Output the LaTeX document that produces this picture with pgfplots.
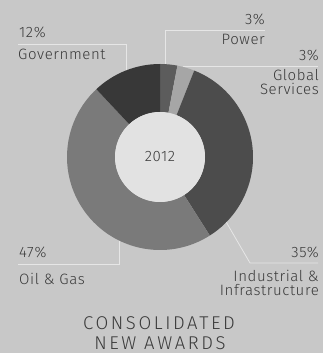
\documentclass[border=0pt]{standalone}
\usepackage{pgfplots}
\pgfplotsset{compat=1.18}
\usepackage{pgfplotstable}
\usepackage{fontspec}
\setmainfont{Fira Sans Light}
\definecolor{bg}{HTML}{C8C8C8}
\definecolor{txt}{HTML}{3A3A3A}
\definecolor{leader}{HTML}{E6E6E6}
\definecolor{cPower}{HTML}{5C5C5C}
\definecolor{cGlobal}{HTML}{A6A6A6}
\definecolor{cIndustrial}{HTML}{4C4C4C}
\definecolor{cOil}{HTML}{7A7A7A}
\definecolor{cGov}{HTML}{383838}
\definecolor{hole}{HTML}{E2E2E2}
\pgfplotstableread{
seg value
Power 3
Global 3
Industrial 35
OilGas 47
Government 12
}\awards
\begin{document}
\begin{tikzpicture}
\pgfplotstablegetelem{0}{value}\of\awards \let\vA\pgfplotsretval
\pgfplotstablegetelem{1}{value}\of\awards \let\vB\pgfplotsretval
\pgfplotstablegetelem{2}{value}\of\awards \let\vC\pgfplotsretval
\pgfplotstablegetelem{3}{value}\of\awards \let\vD\pgfplotsretval
\pgfplotstablegetelem{4}{value}\of\awards \let\vE\pgfplotsretval
\pgfmathsetmacro\aA{90}
\pgfmathsetmacro\aB{\aA-3.6*\vA}
\pgfmathsetmacro\aC{\aB-3.6*\vB}
\pgfmathsetmacro\aD{\aC-3.6*\vC}
\pgfmathsetmacro\aE{\aD-3.6*\vD}
\pgfmathsetmacro\aF{\aE-3.6*\vE}
\def\Ro{93pt}\def\Ri{45pt}
\newcommand\seg[3]{\fill[#3] (#1:\Ro) arc[start angle=#1, end angle=#2, radius=\Ro] -- (#2:\Ri) arc[start angle=#2, end angle=#1, radius=\Ri] -- cycle;}
\begin{axis}[
  x=1pt, y=1pt, xmin=0, xmax=323, ymin=0, ymax=353,
  hide axis, clip=false, scale only axis,
]
\addplot[draw=none, fill=bg] coordinates {(0,0) (323,0) (323,353) (0,353)} -- cycle;
\addplot[leader, line width=0.8pt] coordinates {(18,309) (126,309) (126,280)};
\addplot[leader, line width=0.8pt] coordinates {(265,323) (165,323) (165,285)};
\addplot[leader, line width=0.8pt] coordinates {(183,287) (318,287)};
\addplot[leader, line width=0.8pt] coordinates {(18,89) (119,89) (119,118)};
\addplot[leader, line width=0.8pt] coordinates {(225,133) (250,90) (318,90)};
\begin{scope}[shift={(axis cs:160,196)}]
\seg{\aA}{\aB}{cPower}
\seg{\aB}{\aC}{cGlobal}
\seg{\aC}{\aD}{cIndustrial}
\seg{\aD}{\aE}{cOil}
\seg{\aE}{\aF}{cGov}
\fill[hole] (0,0) circle[radius=\Ri];
\end{scope}
\begin{scope}[every node/.style={inner sep=0pt, text=txt, font=\fontsize{15}{16}\selectfont\addfontfeatures{LetterSpace=4}}]
\node[anchor=base west] at (axis cs:19,315) {12\%};
\node[anchor=base west] at (axis cs:18,293) {Government};
\node[anchor=base east] at (axis cs:265,328) {3\%};
\node[anchor=base east] at (axis cs:265,308) {Power};
\node[anchor=base east] at (axis cs:319,292) {3\%};
\node[anchor=base east] at (axis cs:319,272) {Global};
\node[anchor=base east] at (axis cs:319,258) {Services};
\node[anchor=base west] at (axis cs:19,95) {47\%};
\node[anchor=base west] at (axis cs:19,68) {Oil \& Gas};
\node[anchor=base east] at (axis cs:319,95) {35\%};
\node[anchor=base east] at (axis cs:319,71) {Industrial \&};
\node[anchor=base east] at (axis cs:319,57) {Infrastructure};
\node[anchor=base] at (axis cs:160,191) {2012};
\end{scope}
\begin{scope}[every node/.style={inner sep=0pt, text=txt, font=\fontsize{18.5}{19}\selectfont\addfontfeatures{LetterSpace=14}}]
\node[anchor=base] at (axis cs:159,23) {CONSOLIDATED};
\node[anchor=base] at (axis cs:160,3.5) {NEW AWARDS};
\end{scope}
\end{axis}
\end{tikzpicture}
\end{document}
